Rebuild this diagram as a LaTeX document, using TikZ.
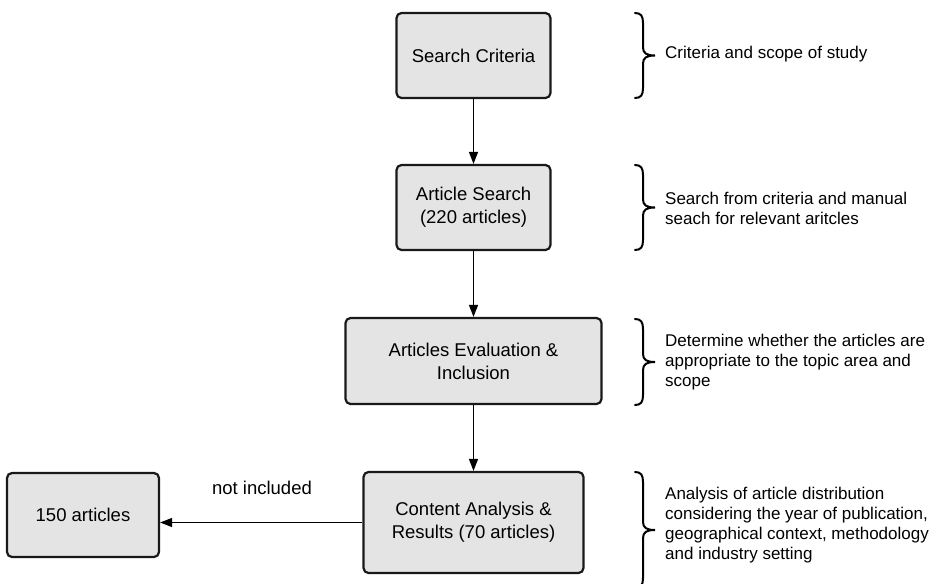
\documentclass[tikz,border=0pt]{standalone}
\usepackage{fontspec}
\setmainfont{Liberation Sans}
\usetikzlibrary{arrows.meta}
\definecolor{boxgray}{HTML}{E4E4E4}
\newcommand\mybrace[3]{\draw[brc] (#1,#2) .. controls ({#1+6},#2) and ({#1+8},{#2+3}) .. ({#1+8},{#2+10}) -- ({#1+8},{(#2+#3)/2-8}) .. controls ({#1+8},{(#2+#3)/2-2}) and ({#1+12},{(#2+#3)/2}) .. ({#1+20},{(#2+#3)/2}) .. controls ({#1+12},{(#2+#3)/2}) and ({#1+8},{(#2+#3)/2+2}) .. ({#1+8},{(#2+#3)/2+8}) -- ({#1+8},{#3-10}) .. controls ({#1+8},{#3-3}) and ({#1+6},#3) .. (#1,#3);}
\begin{document}
\begin{tikzpicture}[x=1pt,y=-1pt,
 box/.style={draw=black!90, line width=2.2pt, rounded corners=5pt, fill=boxgray, align=center, font=\fontsize{18.5}{23}\selectfont, inner sep=0pt},
 conn/.style={line width=1.3pt, -{Triangle[length=12pt,width=9pt]}},
 note/.style={anchor=west, align=left, font=\fontsize{17}{20}\selectfont, inner sep=0pt},
 lbl/.style={font=\fontsize{18.5}{23}\selectfont, inner sep=0pt},
 brc/.style={line width=2pt, line cap=round}]
\useasboundingbox (0,0) rectangle (935,584);
\node[box, minimum width=154pt, minimum height=85pt] (b1) at (473.5,55.5) {Search Criteria};
\node[box, minimum width=154pt, minimum height=85pt] (b2) at (473.5,207.5) {Article Search\\(220 articles)};
\node[box, minimum width=256pt, minimum height=86pt] (b3) at (473.5,361) {Articles Evaluation \&\\Inclusion};
\node[box, minimum width=220pt, minimum height=101pt] (b4) at (473.5,522.5) {Content Analysis \&\\Results (70 articles)};
\node[box, minimum width=152pt, minimum height=84pt] (b5) at (83,515) {150 articles};
\draw[conn] (b1) -- (b2);
\draw[conn] (b2) -- (b3);
\draw[conn] (b3) -- (b4);
\draw[conn] (b4.west) -- (b4.west -| b5.east);
\node[lbl] (ni) at (262,488) {not included};
\mybrace{635}{13}{98}
\mybrace{635}{165}{250}
\mybrace{635}{319}{405}
\mybrace{635}{472}{588}
\node[note] (t1) at (665,54) {Criteria and scope of study};
\node[note] (t2) at (665,208) {Search from criteria and manual\\seach for relevant aritcles};
\node[note] (t3) at (665,362) {Determine whether the articles are\\appropriate to the topic area and\\scope};
\node[note] (t4) at (665,525) {Analysis of article distribution\\considering the year of publication,\\geographical context, methodology\\and industry setting};
\end{tikzpicture}
\end{document}
